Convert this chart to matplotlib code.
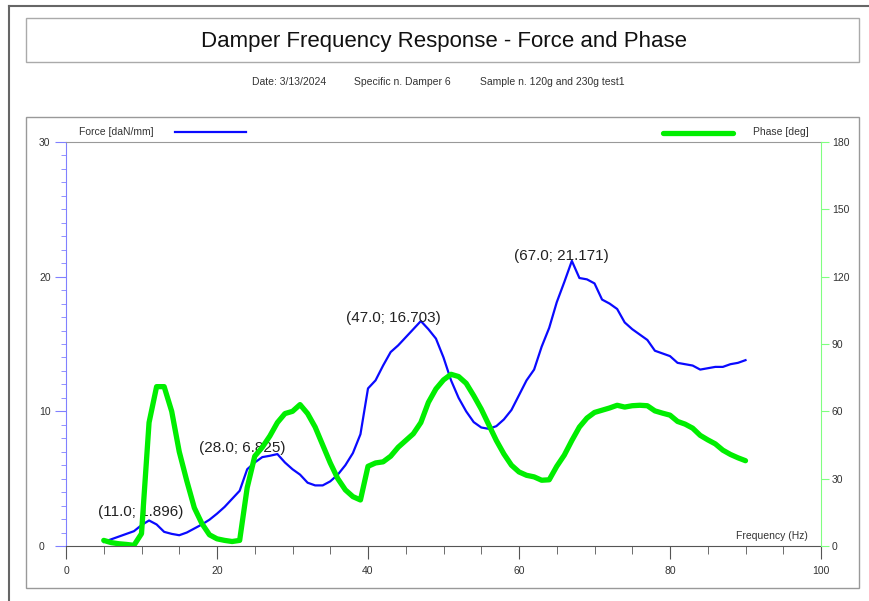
import matplotlib.pyplot as plt
from matplotlib.patches import Rectangle
from matplotlib.lines import Line2D
from matplotlib.ticker import MultipleLocator

plt.rcParams['font.family'] = ['Liberation Sans', 'DejaVu Sans']

# ---- data ----
freq = list(range(5, 91))
force = [0.3, 0.5, 0.7, 0.9, 1.1, 1.55, 1.896, 1.6, 1.05, 0.9,
         0.8, 1.0, 1.3, 1.6, 1.95, 2.4, 2.9, 3.5, 4.1, 5.7,
         6.2, 6.6, 6.7, 6.825, 6.2, 5.7, 5.3, 4.7, 4.5, 4.5,
         4.8, 5.3, 6.0, 6.9, 8.3, 11.7, 12.3, 13.4, 14.4, 14.9,
         15.5, 16.1, 16.703, 16.1, 15.4, 14.0, 12.3, 11.0, 10.0, 9.2,
         8.8, 8.7, 8.9, 9.4, 10.1, 11.2, 12.3, 13.1, 14.8, 16.2,
         18.1, 19.6, 21.171, 19.9, 19.8, 19.5, 18.3, 18.0, 17.6, 16.6,
         16.1, 15.7, 15.3, 14.5, 14.3, 14.1, 13.6, 13.5, 13.4, 13.1,
         13.2, 13.3, 13.3, 13.5, 13.6, 13.8]
phase = [2.5, 1.5, 1.0, 0.7, 0.3, 5.5, 55, 71, 71, 60,
         42, 29, 17, 10, 5, 3.2, 2.5, 2.0, 2.5, 26,
         40, 44, 49, 55, 59, 60, 63, 59, 53, 45,
         37, 30, 25, 22, 20.5, 35.5, 37, 37.5, 40, 44,
         47, 50, 55, 64, 70, 74, 76.5, 75.5, 72.5, 67,
         61, 54, 47, 41, 36, 33, 31.5, 30.8, 29.3, 29.5,
         35.5, 40.5, 47, 53, 57, 59.5, 60.5, 61.5, 62.7, 61.9,
         62.5, 62.7, 62.5, 60.2, 59.2, 58.3, 55.5, 54.3, 52.5, 49.3,
         47.3, 45.5, 42.7, 40.8, 39.3, 38]

peak_freq = [11, 28, 47, 67]
peak_force = [1.896, 6.825, 16.703, 21.171]
# label offsets in pixels
peak_offset = [(-8, 8), (-35, 6), (-27, 3), (-10, 5)]

blue = '#0a0aff'
green = '#00ee00'
txt = '#333333'
px = 72 / 100  # pixels -> points

fig = plt.figure(figsize=(8.69, 6.01), dpi=100)

# frames
fig.add_artist(Line2D([9/869, 9/869], [0, 1 - 6/601], color='#666666', lw=1.5))
fig.add_artist(Line2D([9/869, 1], [1 - 6/601, 1 - 6/601], color='#666666', lw=1.5))
fig.add_artist(Rectangle((26/869, 1 - 62/601), 833/869, 44/601, transform=fig.transFigure,
                         fill=False, edgecolor='#aaaaaa', lw=1))
fig.add_artist(Rectangle((26/869, 1 - 588/601), 833/869, 471/601, transform=fig.transFigure,
                         fill=False, edgecolor='#999999', lw=1))

fig.text(444/869, 1 - 42/601, 'Damper Frequency Response - Force and Phase',
         ha='center', va='center', fontsize=16, color='#111111')
fig.text(252/869, 1 - 82/601, 'Date: 3/13/2024', ha='left', va='center', fontsize=7.5, color=txt)
fig.text(354/869, 1 - 82/601, 'Specific n. Damper 6', ha='left', va='center', fontsize=7.5, color=txt)
fig.text(480/869, 1 - 82/601, 'Sample n. 120g and 230g test1', ha='left', va='center', fontsize=7.5, color=txt)

# legend-like header
fig.text(79/869, 1 - 132/601, 'Force [daN/mm]', ha='left', va='center', fontsize=7.5, color=txt)
fig.add_artist(Line2D([175/869, 246/869], [1 - 132/601] * 2, color=blue, lw=1.6))
fig.text(753/869, 1 - 132/601, 'Phase [deg]', ha='left', va='center', fontsize=7.5, color=txt)
fig.add_artist(Line2D([663/869, 733/869], [1 - 133/601] * 2, color=green, lw=3.8,
                      solid_capstyle='round'))

ax = fig.add_axes([66/869, 1 - 546/601, 755/869, 404/601])
ax.plot(freq, force, color=blue, lw=1.6)
ax.set_xlim(0, 100)
ax.set_ylim(0, 30)
ax.xaxis.set_major_locator(MultipleLocator(20))
ax.xaxis.set_minor_locator(MultipleLocator(5))
ax.yaxis.set_major_locator(MultipleLocator(10))
ax.yaxis.set_minor_locator(MultipleLocator(1))
ax.spines['left'].set_color('#8080ff')
ax.spines['top'].set_color('#999999')
ax.spines['bottom'].set_color('#555555')
ax.spines['right'].set_visible(False)
ax.tick_params(axis='x', which='major', length=13 * px, color='#555555', labelsize=7.5,
               labelcolor=txt, pad=5)
ax.tick_params(axis='x', which='minor', length=8 * px, color='#555555')
ax.tick_params(axis='y', which='major', length=11 * px, color='#8080ff', labelsize=7.5,
               labelcolor=txt, pad=16 * px)
ax.tick_params(axis='y', which='minor', length=5 * px, color='#8080ff')
for lab in ax.get_yticklabels():
    lab.set_horizontalalignment('left')

for f, v, off in zip(peak_freq, peak_force, peak_offset):
    ax.annotate('(%.1f; %.3f)' % (f, v), xy=(f, v),
                xytext=off, textcoords='offset pixels', ha='center', va='center',
                fontsize=11, color='#222222')

ax.text(0.983, 0.024, 'Frequency (Hz)', transform=ax.transAxes, ha='right', va='center',
        fontsize=7.5, color=txt)

ax2 = ax.twinx()
ax2.plot(freq, phase, color=green, lw=3.8, solid_capstyle='round', solid_joinstyle='round')
ax2.set_ylim(0, 180)
ax2.yaxis.set_major_locator(MultipleLocator(30))
for s in ['left', 'top', 'bottom']:
    ax2.spines[s].set_visible(False)
ax2.spines['right'].set_color('#80ff80')
ax2.tick_params(axis='y', length=8 * px, color='#80ff80', labelsize=7.5, labelcolor=txt,
                pad=3 * px)

fig.savefig('out.png', dpi=100)
